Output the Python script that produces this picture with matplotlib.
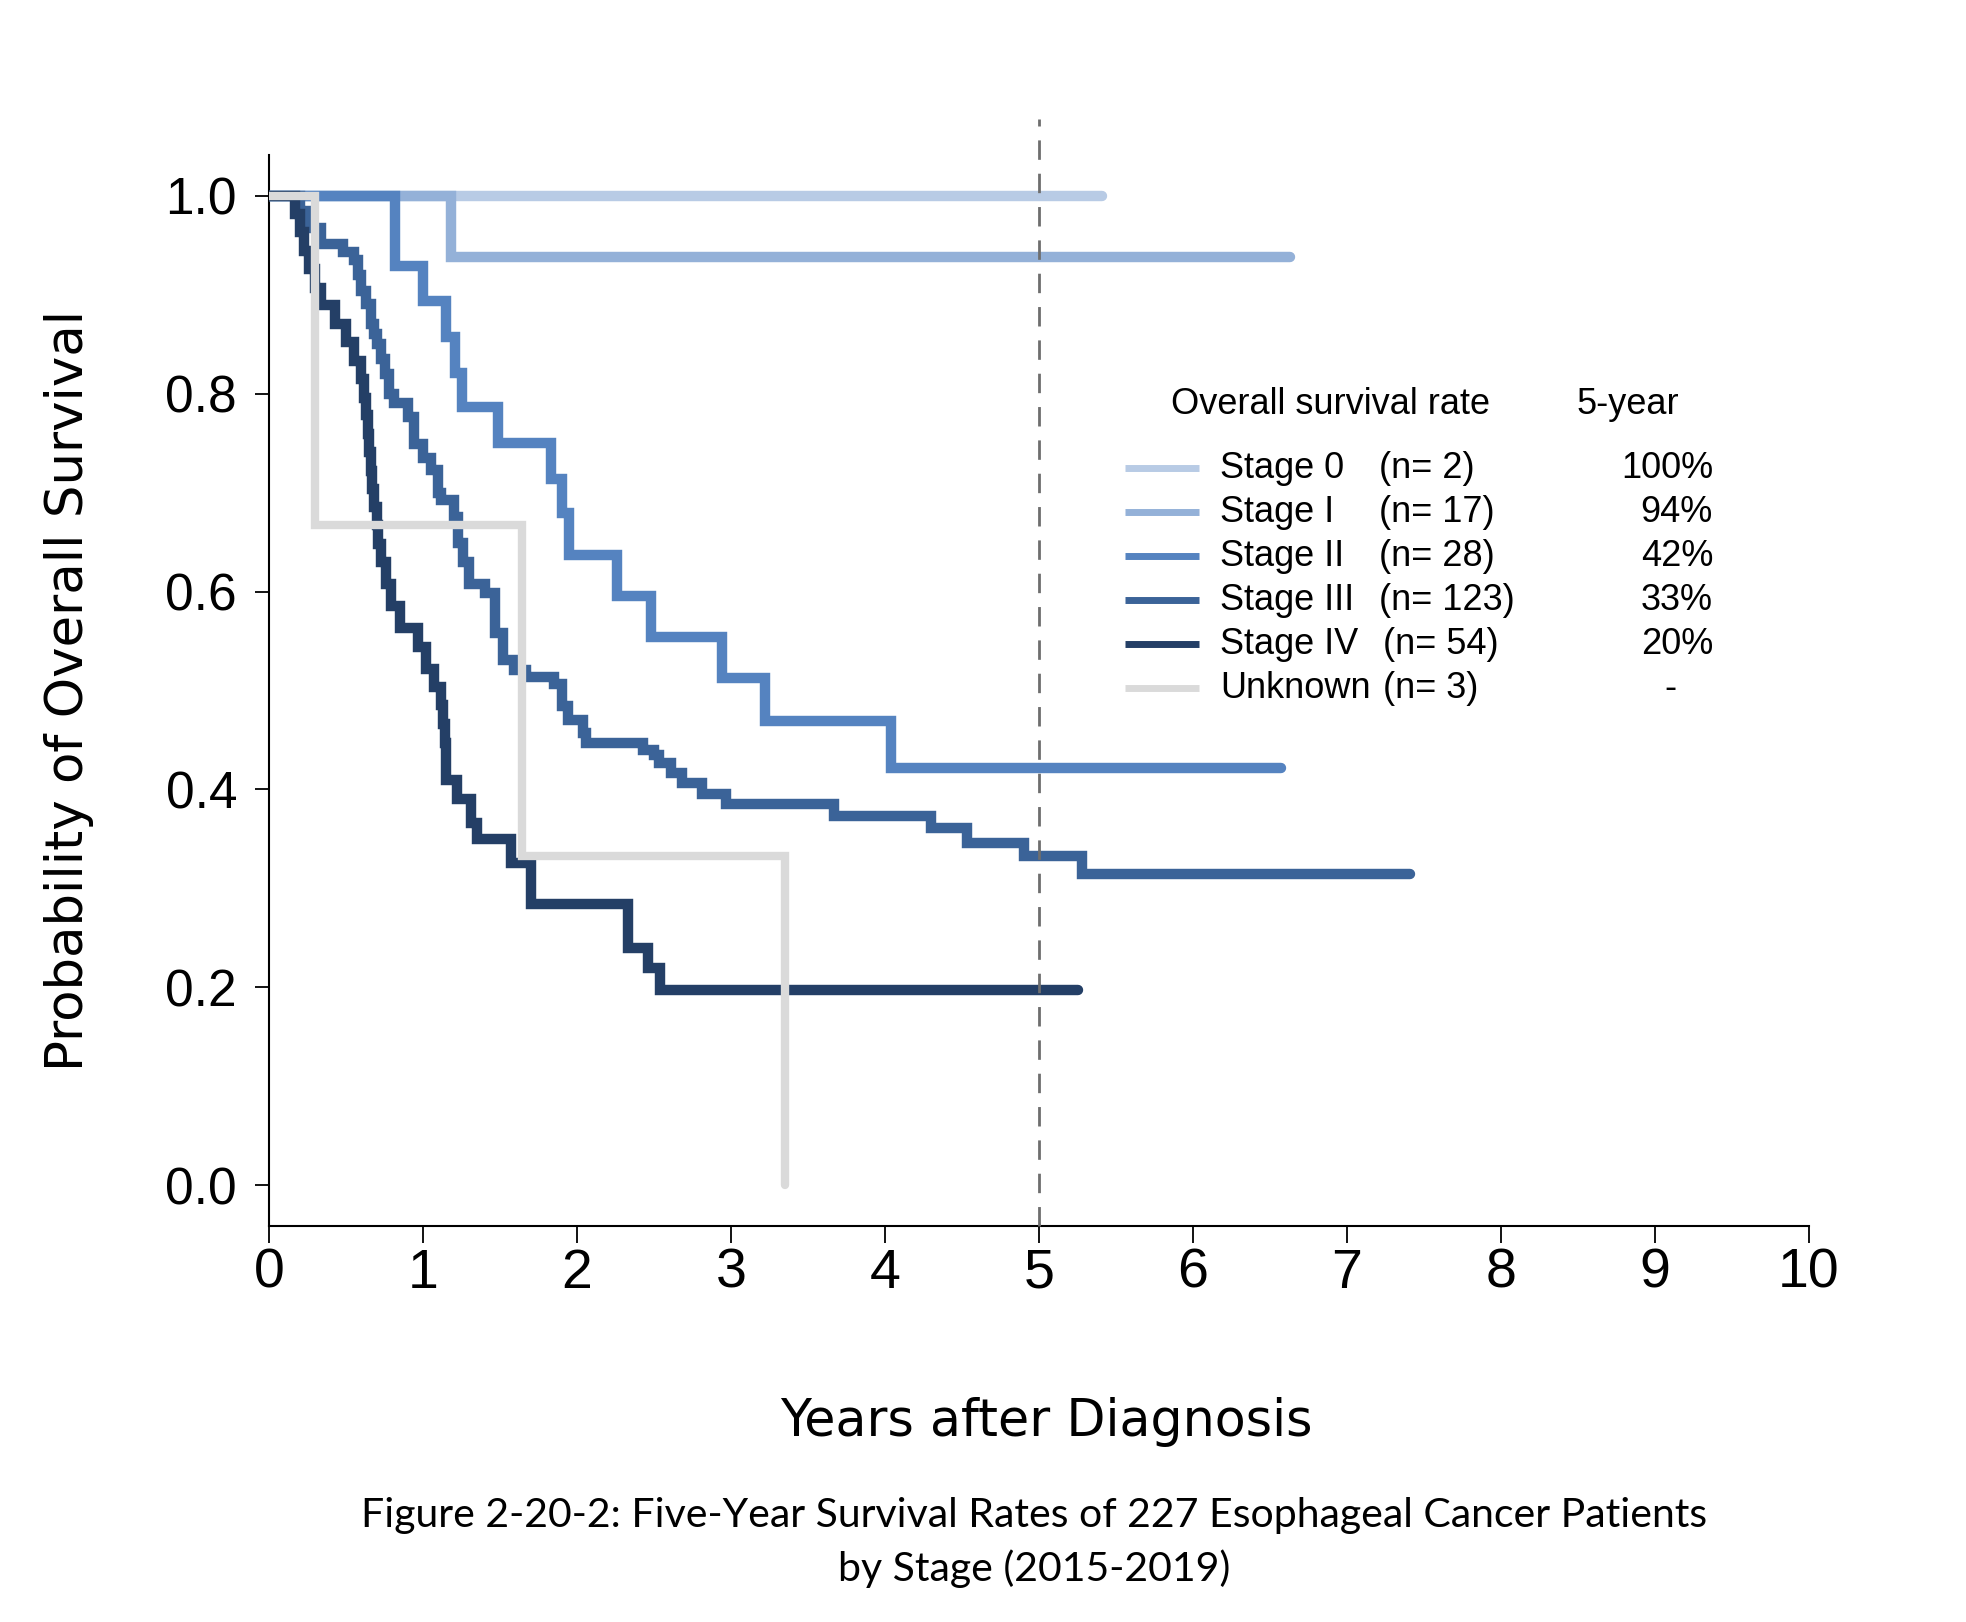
import matplotlib
matplotlib.use("Agg")
import matplotlib.pyplot as plt
from matplotlib import font_manager
from matplotlib.lines import Line2D

# survival curves (time in years, survival probability)
stage0_t = [0.0]
stage0_s = [1.0]
stage0_end = 5.41

stage1_t = [0.0, 1.18]
stage1_s = [1.0, 0.938]
stage1_end = 6.63

stage2_t = [0.0, 0.82, 1.00, 1.15, 1.21, 1.25, 1.49, 1.83, 1.90, 1.95, 2.26, 2.48, 2.94, 3.22, 4.04]
stage2_s = [1.0, 0.929, 0.893, 0.857, 0.821, 0.786, 0.750, 0.714, 0.679, 0.637, 0.595, 0.554,
            0.513, 0.469, 0.422]
stage2_end = 6.57

stage3_t = [0.0, 0.20, 0.24, 0.34, 0.48, 0.55, 0.58, 0.60, 0.63, 0.66, 0.68, 0.70, 0.73, 0.75,
            0.78, 0.81, 0.90, 0.94, 1.00, 1.05, 1.10, 1.12, 1.20, 1.23, 1.26, 1.30, 1.40, 1.47,
            1.52, 1.59, 1.67, 1.85, 1.90, 1.94, 2.04, 2.06, 2.43, 2.50, 2.53, 2.61, 2.68, 2.81,
            2.97, 3.67, 4.30, 4.53, 4.90, 5.28]
stage3_s = [1.0, 0.984, 0.967, 0.951, 0.943, 0.935, 0.920, 0.904, 0.890, 0.870, 0.860, 0.850,
            0.835, 0.820, 0.800, 0.790, 0.776, 0.749, 0.735, 0.723, 0.700, 0.692, 0.675, 0.649,
            0.630, 0.608, 0.598, 0.558, 0.531, 0.521, 0.514, 0.507, 0.484, 0.470, 0.457, 0.447,
            0.440, 0.435, 0.427, 0.417, 0.407, 0.395, 0.385, 0.373, 0.361, 0.346, 0.333, 0.315]
stage3_end = 7.41

stage4_t = [0.0, 0.17, 0.20, 0.23, 0.26, 0.30, 0.34, 0.43, 0.50, 0.55, 0.60, 0.62, 0.63, 0.64,
            0.65, 0.66, 0.67, 0.68, 0.70, 0.71, 0.73, 0.76, 0.79, 0.85, 0.97, 1.02, 1.07, 1.12,
            1.13, 1.14, 1.15, 1.22, 1.31, 1.35, 1.57, 1.70, 2.33, 2.46, 2.54]
stage4_s = [1.0, 0.981, 0.963, 0.944, 0.926, 0.907, 0.889, 0.870, 0.852, 0.833, 0.815, 0.796,
            0.778, 0.759, 0.741, 0.722, 0.704, 0.685, 0.667, 0.648, 0.630, 0.608, 0.585, 0.563,
            0.544, 0.522, 0.504, 0.485, 0.466, 0.447, 0.410, 0.390, 0.366, 0.350, 0.326, 0.284,
            0.240, 0.220, 0.197]
stage4_end = 5.25

unknown_t = [0.0, 0.30, 1.64, 3.35]
unknown_s = [1.0, 0.667, 0.333, 0.0]
unknown_end = 3.35

stage_names = ["Stage 0", "Stage I", "Stage II", "Stage III", "Stage IV", "Unknown"]
stage_n = ["(n= 2)", "(n= 17)", "(n= 28)", "(n= 123)", "(n= 54)", "(n= 3)"]
five_year = ["100%", "94%", "42%", "33%", "20%", "-"]
colors = ["#b8cbe5", "#94b1d8", "#5583c0", "#3b6398", "#243f66", "#dadada"]

x_ticks = [0, 1, 2, 3, 4, 5, 6, 7, 8, 9, 10]
y_ticks = [0.0, 0.2, 0.4, 0.6, 0.8, 1.0]

W, H = 1966, 1622


def fx(px):
    return px / W


def fy(py):
    return 1 - py / H


names = {f.name for f in font_manager.fontManager.ttflist}
narrow = "Liberation Sans Narrow" in names
tick_font = "Liberation Sans Narrow" if narrow else "Liberation Sans"

fig = plt.figure(figsize=(W / 100, H / 100), dpi=100)
ax = fig.add_axes([fx(269), fy(1226), fx(1809) - fx(269), fy(155) - fy(1226)])

curves = [
    (stage0_t, stage0_s, stage0_end),
    (stage1_t, stage1_s, stage1_end),
    (stage2_t, stage2_s, stage2_end),
    (stage3_t, stage3_s, stage3_end),
    (stage4_t, stage4_s, stage4_end),
    (unknown_t, unknown_s, unknown_end),
]
for i, (t, s, end) in enumerate(curves):
    ax.step(t + [end], s + [s[-1]], where="post", color=colors[i],
            lw=7.5 if i < 5 else 6, solid_capstyle="round",
            solid_joinstyle="miter", zorder=2 + i)

# 5-year marker
ax.plot([5, 5], [-0.041, 1.077], color="#6e6e6e", lw=2, ls=(0, (7, 5)),
        clip_on=False, zorder=10)

ax.set_xlim(0, 10)
ax.set_ylim(-0.041, 1.041)
for side in ["top", "right"]:
    ax.spines[side].set_visible(False)
for side in ["left", "bottom"]:
    ax.spines[side].set_linewidth(1.5)

ax.set_xticks(x_ticks)
ax.set_xticklabels([str(v) for v in x_ticks], family=tick_font, fontsize=44 if narrow else 40)
ax.set_yticks(y_ticks)
ax.set_yticklabels(["%.1f" % v for v in y_ticks], family="Liberation Sans", fontsize=37)
ax.tick_params(axis="y", length=10, width=1.3, pad=13)
ax.tick_params(axis="x", length=12.5, width=1.3, pad=3)

fig.text(fx(69), fy(690), "Probability of Overall Survival", rotation=90,
         ha="center", va="center", family="DejaVu Sans", fontsize=37)
fig.text(fx(1046), fy(1422), "Years after Diagnosis", ha="center", va="center",
         family="DejaVu Sans", fontsize=36.5)
fig.text(fx(1034), fy(1515),
         "Figure 2-20-2: Five-Year Survival Rates of 227 Esophageal Cancer Patients",
         ha="center", va="center", family="Lato", fontsize=29.5)
fig.text(fx(1034), fy(1569), "by Stage (2015-2019)", ha="center", va="center",
         family="Lato", fontsize=29.5)

# table-style legend
fig.text(fx(1171), fy(404), "Overall survival rate", ha="left", va="center",
         family="Liberation Sans", fontsize=26)
fig.text(fx(1577), fy(404), "5-year", ha="left", va="center",
         family="Liberation Sans", fontsize=26)
row_y = [468, 512, 556, 600, 644, 688]
n_x = [1379, 1379, 1379, 1379, 1383, 1383]
for i in range(len(stage_names)):
    y = fy(row_y[i])
    fig.add_artist(Line2D([fx(1125), fx(1199)], [y, y], transform=fig.transFigure,
                          color=colors[i], lw=5, solid_capstyle="butt"))
    fig.text(fx(1220), y, stage_names[i], ha="left", va="center",
             family="Liberation Sans", fontsize=26)
    fig.text(fx(n_x[i]), y, stage_n[i], ha="left", va="center",
             family="Liberation Sans", fontsize=26)
    if five_year[i] == "-":
        fig.text(fx(1670), y, five_year[i], ha="center", va="center",
                 family="Liberation Sans", fontsize=26)
    else:
        fig.text(fx(1713), y, five_year[i], ha="right", va="center",
                 family="Liberation Sans", fontsize=26)

fig.savefig("out.png", dpi=100, facecolor="white")
